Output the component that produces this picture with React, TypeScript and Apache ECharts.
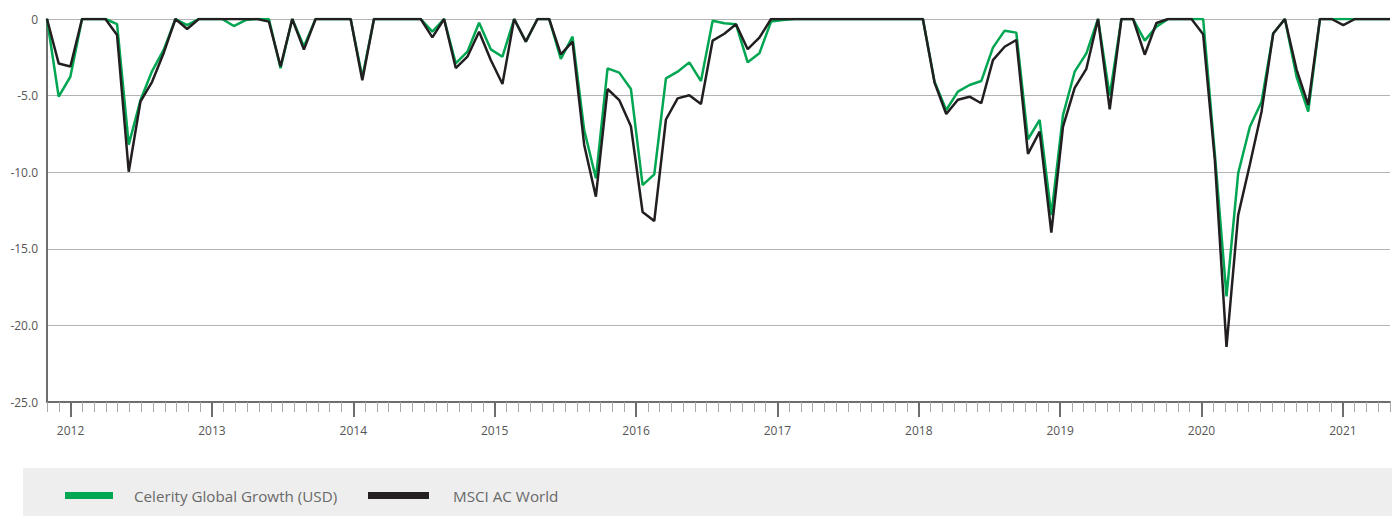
import React, { useEffect, useRef } from "react";
import * as echarts from "echarts";

// Month-end observations, Oct 2011 .. May 2021 (116 points)
const celerity: number[] = [
  0, -5.07, -3.77, 0, 0, 0, -0.33, -8.2, -5.3, -3.4,
  -2.0, 0, -0.4, 0, 0, 0, -0.46, -0.07, 0, 0,
  -3.22, 0, -1.8, 0, 0, 0, 0, -3.8, 0, 0,
  0, 0, 0, -0.83, 0, -2.9, -2.13, -0.24, -1.98, -2.46,
  0, -1.48, 0, 0, -2.61, -1.15, -7.25, -10.4, -3.22, -3.5,
  -4.57, -10.84, -10.14, -3.87, -3.44, -2.83, -4.05, -0.11, -0.28, -0.35,
  -2.83, -2.24, -0.17, -0.07, 0, 0, 0, 0, 0, 0,
  0, 0, 0, 0, 0, 0, -4.1, -5.94, -4.74, -4.31,
  -4.05, -1.87, -0.76, -0.89, -7.85, -6.59, -12.8, -6.27, -3.44, -2.24,
  0, -5.0, 0, 0, -1.41, -0.5, 0, 0, 0, 0,
  -8.8, -18.1, -10.07, -7.03, -5.4, -0.95, 0, -3.77, -6.05, 0,
  0, 0, 0, 0, 0, 0,
];

const msci: number[] = [
  0, -2.9, -3.1, 0, 0, 0, -1.05, -9.97, -5.4, -4.1,
  -2.2, 0, -0.65, 0, 0, 0, 0, 0, 0, -0.17,
  -3.1, 0, -2.0, 0, 0, 0, 0, -4.0, 0, 0,
  0, 0, 0, -1.2, 0, -3.2, -2.46, -0.83, -2.68, -4.24,
  0, -1.48, 0, 0, -2.31, -1.48, -8.22, -11.6, -4.57, -5.29,
  -7.0, -12.6, -13.19, -6.56, -5.18, -4.98, -5.55, -1.41, -0.96, -0.34,
  -1.97, -1.22, 0, 0, 0, 0, 0, 0, 0, 0,
  0, 0, 0, 0, 0, 0, -4.15, -6.2, -5.27, -5.07,
  -5.5, -2.68, -1.81, -1.37, -8.8, -7.35, -13.95, -7.02, -4.5, -3.25,
  0, -5.9, 0, 0, -2.33, -0.26, 0, 0, 0, -1.0,
  -9.2, -21.4, -12.8, -9.5, -6.05, -0.95, 0, -3.3, -5.6, 0,
  0, -0.4, 0, 0, 0, 0,
];

const seriesNames: string[] = ["Celerity Global Growth (USD)", "MSCI AC World"];
const seriesColors: string[] = ["#00A651", "#231F20"];
const yTicks: number[] = [0, -5, -10, -15, -20, -25];

function monthSeq(year: number, month: number, count: number): string[] {
  const out: string[] = [];
  let y = year;
  let m = month;
  for (let i = 0; i < count; i++) {
    out.push(`${y}-${String(m).padStart(2, "0")}`);
    m++;
    if (m > 12) {
      m = 1;
      y++;
    }
  }
  return out;
}

// data categories (month-end observations) and axis tick months
const dataMonths: string[] = monthSeq(2011, 10, celerity.length);
const tickMonths: string[] = monthSeq(2011, 11, 115);

const FONT = "'Open Sans', 'Noto Sans', sans-serif";

export default function App() {
  const ref = useRef<HTMLDivElement>(null);

  useEffect(() => {
    document.body.style.margin = "0";
    if (!ref.current) return;
    const chart = echarts.init(ref.current, undefined, { renderer: "svg" });
    const isJan = (i: number) => tickMonths[i] && tickMonths[i].endsWith("-01");
    chart.setOption({
      animation: false,
      backgroundColor: "#ffffff",
      textStyle: { fontFamily: FONT },
      grid: { left: 47, right: 2, top: 19, bottom: 114, outerBoundsMode: "none" },
      graphic: [
        {
          type: "rect",
          shape: { x: 23, y: 468, width: 1369, height: 48 },
          style: { fill: "#eeeeee" },
          z: -10,
          silent: true,
        },
      ],
      legend: [
        {
          data: [seriesNames[0]],
          left: 60,
          top: 483,
          icon: "rect",
          itemWidth: 48,
          itemHeight: 7,
          selectedMode: false,
          textStyle: { color: "#696969", fontSize: 15.2, fontFamily: FONT, padding: [0, 0, 0, 16] },
        },
        {
          data: [seriesNames[1]],
          left: 363,
          top: 483,
          icon: "rect",
          itemWidth: 61,
          itemHeight: 7,
          selectedMode: false,
          textStyle: { color: "#696969", fontSize: 15.2, fontFamily: FONT, padding: [0, 0, 0, 19] },
        },
      ],
      xAxis: [
        {
          type: "category",
          data: dataMonths,
          boundaryGap: false,
          show: false,
        },
        {
          type: "category",
          data: tickMonths,
          boundaryGap: false,
          position: "bottom",
          axisLine: { show: true, lineStyle: { color: "#6d6d6d", width: 2 } },
          axisTick: { show: true, interval: 0, length: 10, lineStyle: { color: "#a8a8a8", width: 1 } },
          axisLabel: { show: false },
          splitLine: { show: false },
        },
        {
          type: "category",
          data: tickMonths,
          boundaryGap: false,
          position: "bottom",
          axisLine: { show: false },
          axisTick: {
            show: true,
            interval: (i: number) => !!isJan(i),
            length: 15,
            lineStyle: { color: "#6d6d6d", width: 2 },
          },
          axisLabel: {
            show: true,
            interval: (i: number) => !!isJan(i),
            formatter: (v: string) => v.slice(0, 4),
            color: "#555555",
            fontSize: 12,
            fontFamily: FONT,
            margin: 22,
          },
          splitLine: { show: false },
        },
      ],
      yAxis: {
        type: "value",
        min: yTicks[yTicks.length - 1],
        max: yTicks[0],
        interval: 5,
        axisLine: { show: true, lineStyle: { color: "#6d6d6d", width: 2 } },
        axisTick: { show: false },
        splitLine: { show: true, lineStyle: { color: "#b3b3b3", width: 1 } },
        axisLabel: {
          color: "#555555",
          fontSize: 12,
          fontFamily: FONT,
          margin: 9,
          formatter: (v: number) => (v === 0 ? "0" : v.toFixed(1)),
        },
      },
      series: [
        {
          name: seriesNames[0],
          type: "line",
          xAxisIndex: 0,
          data: celerity,
          symbol: "none",
          color: seriesColors[0],
          lineStyle: { color: seriesColors[0], width: 2.5 },
          itemStyle: { color: seriesColors[0] },
          z: 2,
        },
        {
          name: seriesNames[1],
          type: "line",
          xAxisIndex: 0,
          data: msci,
          symbol: "none",
          color: seriesColors[1],
          lineStyle: { color: seriesColors[1], width: 2.5 },
          itemStyle: { color: seriesColors[1] },
          z: 3,
        },
      ],
    });
    return () => chart.dispose();
  }, []);

  return <div ref={ref} style={{ width: 1392, height: 516 }} />;
}
